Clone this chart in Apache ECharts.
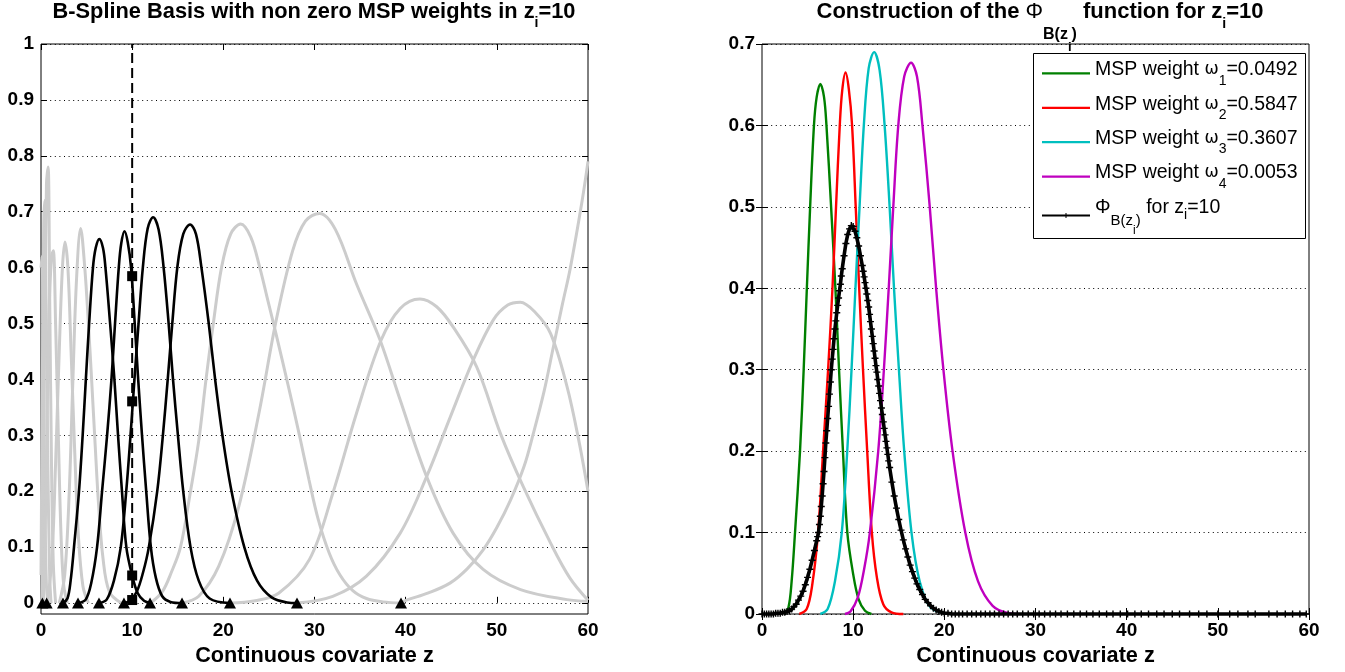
<!DOCTYPE html>
<html><head><meta charset="utf-8">
<script src="https://cdn.jsdelivr.net/npm/echarts@6/dist/echarts.min.js"></script>
<style>html,body{margin:0;padding:0;background:#fff}#c{width:1345px;height:672px}</style>
</head><body><div id="c"></div>
<script>
// ---------------- data ----------------
const zRange = [0, 60];
const zStep = 10;
const leftYRange = [0, 1];
const rightYRange = [0, 0.7];
const yStep = 0.1;
const zi = 10;
const weights = [0.0492, 0.5847, 0.3607, 0.0053];
const knots = [0.15, 0.62, 2.41, 4.06, 6.36, 9.10, 11.96, 15.47, 20.73, 28.08, 39.49];

// four basis functions with non-zero weight at z=10  [z, value]
const b1 = [[2.4,0],[2.9,0.008],[3.25,0.04],[3.62,0.1],[4.17,0.2],[4.57,0.3],[4.92,0.4],[5.28,0.5],[5.7,0.6],[6.0,0.635],[6.4,0.651],[6.8,0.635],[7.07,0.6],[7.58,0.5],[8.05,0.4],[8.45,0.3],[8.88,0.2],[9.36,0.1],[10.0,0.049],[10.6,0.018],[11.3,0.004],[12.0,0]];
const b2 = [[4.1,0],[4.9,0.006],[5.5,0.035],[6.15,0.1],[6.7,0.2],[7.25,0.3],[7.73,0.4],[8.12,0.5],[8.53,0.6],[8.8,0.643],[9.16,0.665],[9.52,0.645],[9.88,0.6],[10.28,0.5],[10.66,0.4],[11.08,0.3],[11.54,0.2],[12.05,0.1],[12.6,0.045],[13.3,0.012],[14.2,0.002],[15.5,0]];
const b3 = [[6.4,0],[7.2,0.006],[8.0,0.04],[8.75,0.1],[9.35,0.2],[9.82,0.3],[10.25,0.4],[10.7,0.5],[11.17,0.6],[11.7,0.67],[12.3,0.69],[12.9,0.668],[13.45,0.6],[14.0,0.5],[14.48,0.4],[15.02,0.3],[15.6,0.2],[16.4,0.1],[17.3,0.04],[18.5,0.008],[20.7,0]];
const b4 = [[9.1,0],[9.7,0.003],[10.5,0.02],[11.2,0.055],[11.83,0.1],[12.75,0.2],[13.37,0.3],[13.9,0.4],[14.4,0.5],[14.95,0.6],[15.6,0.66],[16.35,0.677],[17.0,0.66],[17.6,0.6],[18.4,0.5],[19.1,0.4],[19.9,0.3],[20.9,0.2],[22.3,0.1],[23.7,0.04],[25.3,0.01],[27.0,0.001],[28.1,0]];

// remaining (grey) basis functions
const g1 = [[0,0.6],[0.1,0.62],[0.25,0.45],[0.45,0.15],[0.6,0.03],[0.75,0]];
const g2 = [[0,0.05],[0.15,0.4],[0.3,0.68],[0.42,0.72],[0.55,0.55],[0.75,0.25],[0.95,0.05],[1.1,0]];
const g3 = [[0.1,0],[0.35,0.4],[0.6,0.75],[0.78,0.78],[0.95,0.55],[1.15,0.25],[1.35,0.07],[1.6,0]];
const g4 = [[0.25,0],[0.55,0.2],[0.85,0.5],[1.15,0.62],[1.35,0.63],[1.6,0.5],[1.9,0.3],[2.2,0.12],[2.5,0.03],[2.9,0]];
const g5 = [[0.7,0],[1.2,0.08],[1.6,0.25],[2.0,0.45],[2.35,0.6],[2.63,0.646],[2.95,0.6],[3.3,0.45],[3.7,0.27],[4.1,0.12],[4.6,0.03],[5.2,0]];
const g6 = [[2.0,0],[2.6,0.05],[3.1,0.2],[3.5,0.4],[3.9,0.58],[4.35,0.67],[4.8,0.6],[5.2,0.5],[5.55,0.4],[5.95,0.28],[6.3,0.18],[6.8,0.08],[7.5,0.02],[8.8,0]];
const g7 = [[12,0],[13.3,0.02],[14.3,0.055],[15.3,0.1],[16.4,0.2],[17.3,0.29],[18.1,0.4],[18.9,0.5],[19.8,0.6],[20.8,0.66],[21.9,0.678],[23.0,0.655],[24.0,0.6],[24.9,0.54],[25.8,0.48],[27.1,0.39],[28.35,0.3],[29.4,0.22],[30.4,0.15],[31.6,0.09],[32.8,0.05],[34.2,0.022],[35.7,0.008],[37.5,0.002],[39.5,0]];
const g8 = [[15.5,0],[17.3,0.012],[19.5,0.066],[21.7,0.173],[23.9,0.339],[25.8,0.506],[27.6,0.63],[29.0,0.683],[30.55,0.697],[32.3,0.668],[34.6,0.571],[37.2,0.47],[39.4,0.363],[42.3,0.226],[45.2,0.125],[48.5,0.06],[52.6,0.024],[57.7,0.006],[60,0.003]];
const g9 = [[20.7,0],[23.5,0.004],[26.1,0.018],[29.45,0.078],[32.0,0.196],[34.6,0.339],[37.3,0.47],[39.4,0.527],[41.56,0.544],[43.4,0.53],[45.2,0.494],[47.8,0.422],[50.4,0.303],[52.9,0.208],[55.9,0.107],[58,0.045],[60,0.005]];
const g10 = [[28,0],[32.0,0.012],[35.7,0.048],[39.4,0.125],[42.3,0.226],[44.9,0.333],[47.4,0.434],[49.6,0.506],[51.2,0.533],[52.57,0.538],[54.2,0.52],[55.9,0.482],[57.7,0.387],[59.0,0.29],[60,0.2]];
const g11 = [[39.5,0],[40.1,0.005],[42.5,0.018],[44.9,0.036],[46.8,0.062],[48.5,0.095],[50.0,0.135],[51.5,0.184],[53.0,0.245],[54.0,0.303],[55.2,0.38],[56.2,0.458],[57.2,0.535],[58.07,0.6],[59.36,0.72],[60,0.79]];

// Phi_B(z_i) (weighted sum) as plotted with + markers
const phi = [[0,0],[0.25,0],[0.5,0],[0.75,0],[1,0],[1.25,0],[1.5,0.001],[1.75,0.001],[2,0.001],[2.25,0.002],[2.5,0.002],[2.75,0.003],[3,0.004],[3.25,0.006],[3.5,0.009],[3.75,0.012],[4,0.017],[4.25,0.022],[4.5,0.028],[4.75,0.036],[5,0.045],[5.25,0.055],[5.5,0.066],[5.75,0.078],[6,0.09],[6.1,0.095],[6.2,0.1],[6.3,0.11],[6.4,0.12],[6.5,0.132],[6.6,0.145],[6.7,0.16],[6.8,0.175],[6.9,0.192],[7.0,0.21],[7.1,0.225],[7.2,0.24],[7.3,0.255],[7.4,0.27],[7.5,0.285],[7.6,0.3],[7.7,0.313],[7.8,0.325],[7.9,0.338],[8.0,0.35],[8.1,0.36],[8.2,0.37],[8.3,0.379],[8.4,0.388],[8.5,0.397],[8.6,0.405],[8.7,0.415],[8.8,0.424],[9.0,0.44],[9.2,0.455],[9.4,0.466],[9.6,0.473],[9.8,0.477],[10.0,0.476],[10.2,0.47],[10.4,0.462],[10.6,0.452],[10.8,0.44],[11.0,0.428],[11.1,0.421],[11.2,0.414],[11.3,0.407],[11.4,0.4],[11.5,0.393],[11.6,0.385],[11.7,0.377],[11.8,0.368],[11.9,0.359],[12.0,0.35],[12.1,0.341],[12.2,0.332],[12.3,0.323],[12.4,0.314],[12.5,0.305],[12.6,0.297],[12.7,0.288],[12.8,0.28],[12.9,0.271],[13.0,0.262],[13.1,0.253],[13.2,0.245],[13.3,0.236],[13.4,0.228],[13.5,0.22],[13.6,0.212],[13.7,0.204],[13.8,0.196],[13.9,0.188],[14.0,0.18],[14.25,0.162],[14.5,0.145],[14.75,0.13],[15.0,0.116],[15.25,0.103],[15.5,0.091],[15.75,0.08],[16.0,0.07],[16.25,0.06],[16.5,0.052],[16.75,0.044],[17.0,0.037],[17.3,0.03],[17.6,0.024],[17.9,0.018],[18.2,0.014],[18.5,0.01],[18.8,0.007],[19.1,0.005],[19.4,0.003],[19.7,0.002],[20,0.001],[20.4,0.001],[20.8,0],[21.2,0],[21.6,0],[22,0],[22.5,0],[23,0],[23.5,0],[24,0],[24.5,0],[25,0],[25.5,0],[26,0],[26.5,0],[27,0],[27.5,0],[28,0]];
const phiTailZ = [28.6,29.2,29.8,30.4,31.0,31.6,32.2,32.8,33.5,34.2,34.9,35.6,36.3,37.0,37.8,38.5,39.3,40.1,40.9,41.6,42.4,43.3,44.1,45.0,45.8,46.9,47.9,48.8,50.0,51.3,52.2,53.3,54.1,55.6,56.5,57.4,58.2,59.0,59.7];

const seriesNames = ['w1','w2','w3','w4','phi'];
const seriesColors = ['#008000','#ff0000','#00bfbf','#bf00bf','#000000'];

// ---------------- chart ----------------
const F = '"Liberation Sans", Arial, Helvetica, sans-serif';
const lab = {fontFamily: F, fontWeight: 'bold', fontSize: 19, color: '#000'};
const tick = {show: true, inside: true, length: 6, lineStyle: {color: '#000', width: 1}};
const dotted = {show: true, lineStyle: {color: '#000', width: 1, type: [1, 3.6]}};
const nameStyle = {fontFamily: F, fontWeight: 'bold', fontSize: 21.7, color: '#000'};
const plus = 'path://M4,0H6V4H10V6H6V10H4V6H0V4H4Z';
// legend icons: thin line (and a small plus for Phi); tiny corner triangles fix the icon box 48x21
const iconLine = 'path://M0,0L0.1,0L0,0.1Z M0,13H48V15.2H0Z M47.9,21L48,21L48,20.9Z';
const iconPhi = 'path://M0,0L0.1,0L0,0.1Z M0,17.5H48V19.5H0Z M22,18H26V19H22Z M23.5,16H24.5V21H23.5Z M47.9,21L48,21L48,20.9Z';

function xAx(grid, pos, labels, name) {
  const a = {gridIndex: grid, type: 'value', min: zRange[0], max: zRange[1], interval: zStep, position: pos,
    axisLine: {show: false}, axisTick: tick, splitLine: {show: false},
    axisLabel: labels ? Object.assign({margin: 7}, lab) : {show: false}};
  if (name) { a.name = name; a.nameLocation = 'middle'; a.nameGap = 24; a.nameTextStyle = nameStyle; }
  return a;
}
function yAx(grid, pos, range, labels, split) {
  return {gridIndex: grid, type: 'value', min: range[0], max: range[1], interval: yStep, position: pos,
    axisLine: {show: false}, axisTick: tick, splitLine: split ? dotted : {show: false},
    axisLabel: labels ? Object.assign({margin: 7}, lab) : {show: false}};
}
function curve(data, color, width, xi, yi, z, extra) {
  return Object.assign({type: 'line', data: data, xAxisIndex: xi, yAxisIndex: yi, symbol: 'none', showSymbol: false,
    smooth: 0.35, clip: false, silent: true, z: z, lineStyle: {color: color, width: width}, itemStyle: {color: color}}, extra || {});
}

const greys = [g1,g2,g3,g4,g5,g6,g7,g8,g9,g10,g11];
const blacks = [b1,b2,b3,b4];
const series = [];
greys.forEach(g => series.push(curve(g, '#cccccc', 3, 2, 1, 2)));
blacks.forEach(b => series.push(curve(b, '#000000', 2.6, 2, 1, 3)));
series.push({type: 'line', data: [[zi, leftYRange[0]], [zi, leftYRange[1]]], xAxisIndex: 2, yAxisIndex: 1, symbol: 'none',
  clip: false, silent: true, z: 4, lineStyle: {color: '#000', width: 2, type: [10, 5]}});
series.push({type: 'scatter', data: weights.map(w => [zi, w]), xAxisIndex: 2, yAxisIndex: 1, symbol: 'rect', symbolSize: 10,
  silent: true, z: 5, itemStyle: {color: '#000', opacity: 1}});
series.push({type: 'scatter', data: knots.map(k => [k, 0]), xAxisIndex: 2, yAxisIndex: 1, symbol: 'triangle', symbolSize: [12, 11],
  silent: true, z: 5, itemStyle: {color: '#000', opacity: 1}});
blacks.forEach((b, i) => series.push(curve(b, seriesColors[i], 2.4, 3, 3, 3, {name: seriesNames[i]})));
series.push({type: 'line', name: 'phi', data: phi.concat(phiTailZ.map(z => [z, 0])), xAxisIndex: 3, yAxisIndex: 3,
  symbol: plus, symbolSize: 7, showSymbol: true, showAllSymbol: true, clip: false, silent: true, z: 4,
  lineStyle: {color: '#000', width: 3.6}, itemStyle: {color: '#000', opacity: 1}});

const legendLabels = {};
weights.forEach((w, i) => { legendLabels[seriesNames[i]] = 'MSP weight {om|ω}{sub|' + (i + 1) + '}=' + w.toFixed(4); });
legendLabels.phi = '{phi|Φ}{pb|B(z}{pi|i}{pb|)} for z{zs|i}=' + zi;

const chart = echarts.init(document.getElementById('c'), null, {renderer: 'canvas'});
chart.setOption({
  animation: false,
  backgroundColor: '#fff',
  title: [
    {text: 'B-Spline Basis with non zero MSP weights in z{s|i}=' + zi, left: 309, top: -5, textAlign: 'center',
     textStyle: {fontFamily: F, fontWeight: 'bold', fontSize: 21.8, color: '#000', lineHeight: 24,
       rich: {s: {fontFamily: F, fontWeight: 'bold', fontSize: 14, padding: [22, 0, 0, 0], lineHeight: 24}}}},
    {text: 'Construction of the {phi|Φ}{s1|B(z}{s2|i}{s1|)} function for z{s|i}=' + zi, left: 1035, top: -5, textAlign: 'center',
     textStyle: {fontFamily: F, fontWeight: 'bold', fontSize: 22, color: '#000', lineHeight: 24,
       rich: {
         phi: {fontFamily: F, fontWeight: 'normal', fontSize: 22, lineHeight: 24},
         s: {fontFamily: F, fontWeight: 'bold', fontSize: 14, padding: [24, 0, 0, 0], lineHeight: 24},
         s1: {fontFamily: F, fontWeight: 'bold', fontSize: 16, padding: [46, 0, 0, 0], lineHeight: 24},
         s2: {fontFamily: F, fontWeight: 'bold', fontSize: 13, padding: [70, 0, 0, 0], lineHeight: 24}}}}
  ],
  graphic: [
    {type: 'rect', z: 3, silent: true, shape: {x: 1033.5, y: 53.5, width: 272, height: 185},
     style: {fill: '#fff', stroke: '#000', lineWidth: 1}}
  ],
  legend: {
    data: seriesNames.map((n, i) => ({name: n, icon: i < 4 ? iconLine : iconPhi})),
    orient: 'vertical', left: 1042, top: 28.8, z: 5,
    itemWidth: 48, itemHeight: 21, itemGap: -47.6, padding: 0,
    borderWidth: 0, backgroundColor: 'transparent', selectedMode: false,
    itemStyle: {borderWidth: 0},
    formatter: n => legendLabels[n] + '{pad|\u00a0}',
    textStyle: {fontFamily: F, fontSize: 19.5, color: '#000', lineHeight: 20,
      rich: {
        om: {fontFamily: '"DejaVu Sans"', fontSize: 17, lineHeight: 20},
        sub: {fontFamily: F, fontSize: 14, padding: [22, 0, 0, 0], lineHeight: 20},
        phi: {fontFamily: F, fontSize: 19.5, lineHeight: 20},
        pb: {fontFamily: F, fontSize: 15, padding: [26, 0, 0, 0], lineHeight: 20},
        pi: {fontFamily: F, fontSize: 12, padding: [46, 0, 0, 0], lineHeight: 20},
        zs: {fontFamily: F, fontSize: 14, padding: [15, 0, 0, 0], lineHeight: 20},
        pad: {fontFamily: F, fontSize: 12, padding: [70, 0, 0, 0], lineHeight: 20}}}
  },
  grid: [
    {left: 41, top: 44, width: 547, height: 570, show: true, borderColor: '#000', borderWidth: 1, containLabel: false},
    {left: 41, top: 44, width: 547, height: 559, show: false, containLabel: false},
    {left: 762, top: 44, width: 547, height: 570, show: true, borderColor: '#000', borderWidth: 1, containLabel: false}
  ],
  xAxis: [
    xAx(0, 'bottom', true, 'Continuous covariate z'),
    xAx(0, 'top', false),
    {gridIndex: 1, type: 'value', min: zRange[0], max: zRange[1], show: false},
    xAx(2, 'bottom', true, 'Continuous covariate z'),
    xAx(2, 'top', false)
  ],
  yAxis: [
    {gridIndex: 0, type: 'value', min: -0.02, max: leftYRange[1], show: false},
    yAx(1, 'left', leftYRange, true, true),
    yAx(1, 'right', leftYRange, false, false),
    yAx(2, 'left', rightYRange, true, true),
    yAx(2, 'right', rightYRange, false, false)
  ],
  series: series
});
</script>
</body></html>
